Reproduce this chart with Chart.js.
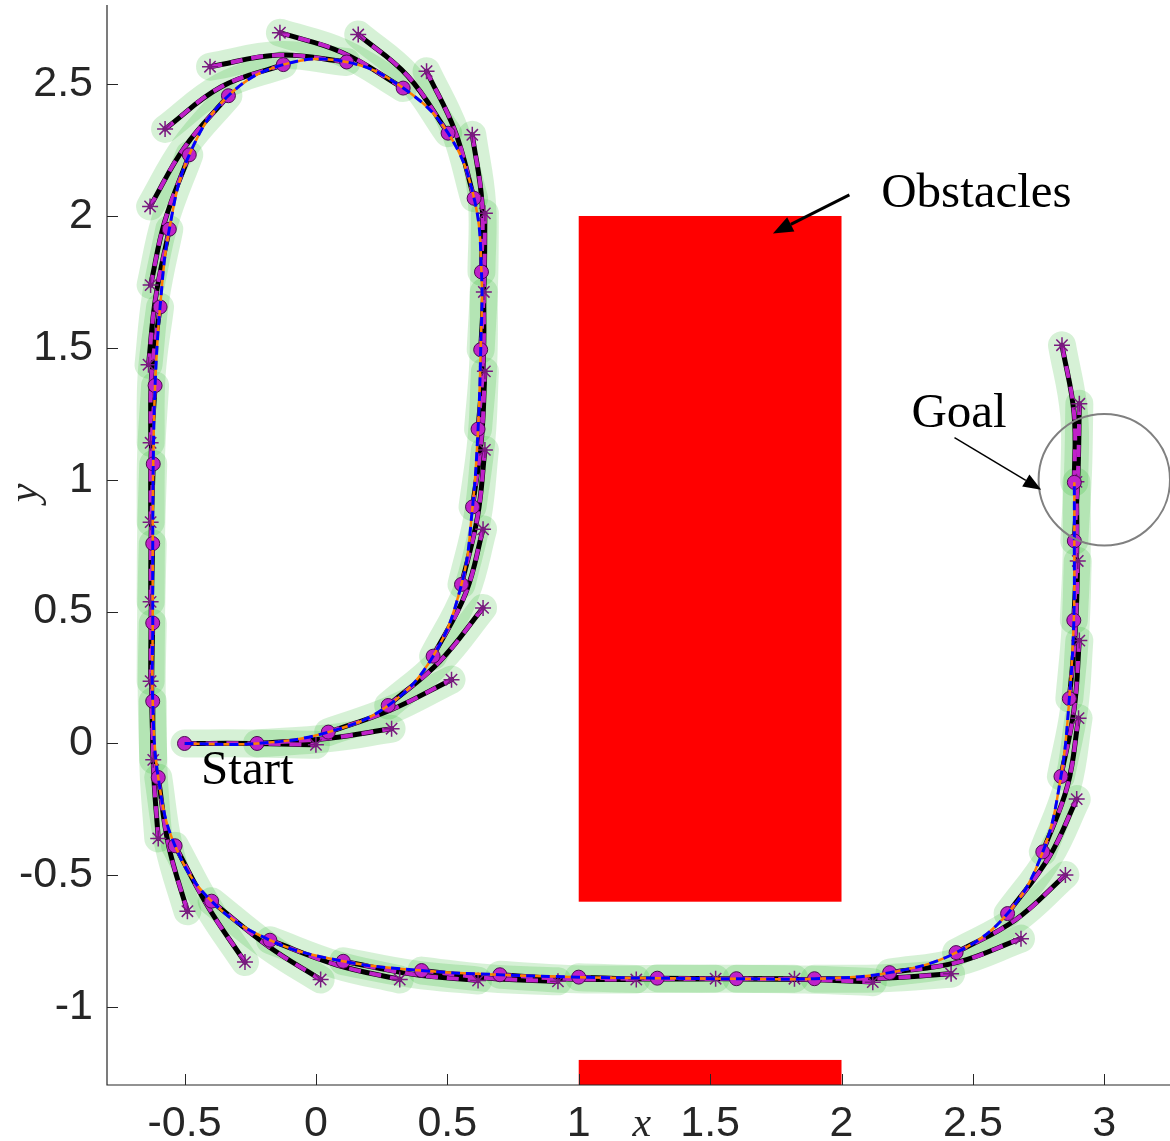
<!DOCTYPE html>
<html>
<head>
<meta charset="utf-8">
<script src="https://cdn.jsdelivr.net/npm/chart.js@4.4.1/dist/chart.umd.min.js"></script>
<style>
  html, body { margin: 0; padding: 0; background: #fff; }
  #wrap { width: 1170px; height: 1141px; }
</style>
</head>
<body>
<div id="wrap"><canvas id="plot" width="1170" height="1141"></canvas></div>
<script>
// closed-loop states (magenta circles)
const stateX = [-0.5, -0.224, 0.047, 0.275, 0.446, 0.554, 0.596, 0.617, 0.627, 0.63, 0.602, 0.503, 0.332, 0.117, -0.124,
  -0.333, -0.482, -0.558, -0.593, -0.612, -0.619, -0.621, -0.621, -0.621, -0.6, -0.536, -0.397, -0.175, 0.104, 0.402,
  0.7, 1.0, 1.299, 1.6, 1.897, 2.183, 2.436, 2.632, 2.766, 2.835, 2.867, 2.884, 2.886, 2.886];
const stateY = [0, 0, 0.043, 0.144, 0.331, 0.603, 0.897, 1.192, 1.493, 1.788, 2.067, 2.314, 2.485, 2.584, 2.574,
  2.456, 2.232, 1.95, 1.655, 1.357, 1.06, 0.758, 0.457, 0.16, -0.129, -0.388, -0.598, -0.746, -0.826, -0.861,
  -0.877, -0.886, -0.89, -0.892, -0.892, -0.869, -0.793, -0.645, -0.411, -0.125, 0.17, 0.467, 0.768, 0.99];

// predicted horizon from each state: a middle point and the end (asterisk)
const predMidX = [-0.25, 0.05, 0.28, 0.47, 0.57, 0.615, 0.63, 0.637, 0.64, 0.632, 0.53, 0.35, 0.1, -0.14, -0.36,
  -0.5, -0.575, -0.61, -0.625, -0.627, -0.627, -0.627, -0.625, -0.618, -0.56, -0.41, -0.18, 0.08, 0.37, 0.66,
  0.96, 1.26, 1.56, 1.86, 2.16, 2.44, 2.66, 2.79, 2.86, 2.885, 2.89, 2.895, 2.9, 2.885];
const predMidY = [0, 0.02, 0.125, 0.31, 0.57, 0.86, 1.155, 1.45, 1.75, 2.05, 2.32, 2.53, 2.62, 2.61, 2.49,
  2.26, 1.98, 1.69, 1.4, 1.1, 0.8, 0.5, 0.2, -0.1, -0.39, -0.62, -0.77, -0.84, -0.875, -0.89,
  -0.893, -0.893, -0.892, -0.895, -0.89, -0.83, -0.67, -0.43, -0.16, 0.13, 0.43, 0.73, 1.03, 1.25];
const predEndX = [0.0, 0.288, 0.516, 0.636, 0.636, 0.643, 0.643, 0.639, 0.643, 0.595, 0.421, 0.161, -0.137, -0.403, -0.574,
  -0.631, -0.629, -0.637, -0.629, -0.629, -0.629, -0.629, -0.619, -0.6, -0.489, -0.27, 0.018, 0.319, 0.617, 0.921,
  1.219, 1.521, 1.821, 2.119, 2.417, 2.683, 2.852, 2.895, 2.902, 2.905, 2.899, 2.894, 2.905, 2.839];
const predEndY = [-0.005, 0.056, 0.242, 0.514, 0.812, 1.113, 1.411, 1.712, 2.01, 2.308, 2.549, 2.688, 2.695, 2.566, 2.33,
  2.036, 1.738, 1.436, 1.14, 0.839, 0.537, 0.236, -0.062, -0.36, -0.636, -0.829, -0.895, -0.895, -0.899, -0.902,
  -0.895, -0.892, -0.892, -0.905, -0.873, -0.74, -0.499, -0.211, 0.096, 0.39, 0.692, 0.992, 1.288, 1.51];

// obstacles (rectangles) and goal region
const obstacleX0 = [1, 1];
const obstacleX1 = [2, 2];
const obstacleY0 = [-0.6, -1.3];
const obstacleY1 = [2, -1.2];
const goalCenter = [3, 1];
const goalRadius = 0.25;

// text annotations and arrows
const noteText = ["Obstacles", "Goal", "Start"];
const noteX = [2.151, 2.266, -0.437];
const noteY = [2.035, 1.199, -0.155];
const arrowFromX = [2.03, 2.43];
const arrowFromY = [2.08, 1.16];
const arrowToX = [1.739, 2.76];
const arrowToY = [1.934, 0.962];
const arrowWidth = [3, 1.5];

const xTickValues = [-0.5, 0, 0.5, 1, 1.5, 2, 2.5, 3];
const yTickValues = [-1, -0.5, 0, 0.5, 1, 1.5, 2, 2.5];

const colors = {
  axis: "#262626",
  halo: "rgba(0, 170, 0, 0.16)",
  magenta: "#bf22c9",
  star: "#7a1a80",
  orange: "#ff7f00",
  blue: "#0000ff",
  red: "#ff0000",
  goal: "#808080",
};

const statePoints = stateX.map((x, i) => ({ x, y: stateY[i] }));
const predictions = stateX.map((x, i) => [
  { x, y: stateY[i] },
  { x: predMidX[i], y: predMidY[i] },
  { x: predEndX[i], y: predEndY[i] },
]);
const endPoints = predEndX.map((x, i) => ({ x, y: predEndY[i] }));

const datasets = [];
predictions.forEach((points) => {
  datasets.push({ data: points, showLine: true, borderColor: colors.halo, borderWidth: 28,
    borderCapStyle: "round", borderJoinStyle: "round", pointRadius: 0, tension: 0.4, order: 50 });
});
predictions.forEach((points) => {
  datasets.push({ data: points, showLine: true, borderColor: "#000", borderWidth: 5,
    borderCapStyle: "round", pointRadius: 0, tension: 0.4, order: 40 });
});
predictions.forEach((points) => {
  datasets.push({ data: points, showLine: true, borderColor: colors.magenta, borderWidth: 4,
    borderDash: [12, 9], pointRadius: 0, tension: 0.4, order: 30 });
});
datasets.push({ data: endPoints, showLine: false, pointStyle: "star", pointRadius: 8,
  borderColor: colors.star, borderWidth: 1.5, backgroundColor: colors.star, order: 25 });
datasets.push({ data: statePoints, showLine: false, pointStyle: "circle", pointRadius: 7,
  backgroundColor: colors.magenta, borderColor: "#4a0a50", borderWidth: 1, order: 20 });
datasets.push({ data: statePoints, showLine: true, borderColor: colors.orange, borderWidth: 2.5,
  pointRadius: 0, tension: 0.4, order: 10 });
datasets.push({ data: statePoints, showLine: true, borderColor: colors.blue, borderWidth: 3,
  borderDash: [9, 6], pointRadius: 0, tension: 0.4, order: 5 });

function drawArrow(ctx, x0, y0, x1, y1, width, headLen, headHalf) {
  const ang = Math.atan2(y1 - y0, x1 - x0);
  const bx = x1 - headLen * Math.cos(ang);
  const by = y1 - headLen * Math.sin(ang);
  ctx.strokeStyle = "#000";
  ctx.fillStyle = "#000";
  ctx.lineWidth = width;
  ctx.beginPath();
  ctx.moveTo(x0, y0);
  ctx.lineTo(bx, by);
  ctx.stroke();
  ctx.beginPath();
  ctx.moveTo(x1, y1);
  ctx.lineTo(bx + headHalf * Math.sin(ang), by - headHalf * Math.cos(ang));
  ctx.lineTo(bx - headHalf * Math.sin(ang), by + headHalf * Math.cos(ang));
  ctx.closePath();
  ctx.fill();
}

const scenePlugin = {
  id: "scene",
  beforeDatasetsDraw(chart) {
    const { ctx, chartArea, scales: { x, y } } = chart;
    ctx.save();
    ctx.beginPath();
    ctx.rect(chartArea.left, chartArea.top, chartArea.right - chartArea.left, chartArea.bottom - chartArea.top);
    ctx.clip();
    ctx.fillStyle = colors.red;
    obstacleX0.forEach((x0, i) => {
      const px0 = x.getPixelForValue(x0);
      const px1 = x.getPixelForValue(obstacleX1[i]);
      const py0 = y.getPixelForValue(obstacleY1[i]);
      const py1 = y.getPixelForValue(obstacleY0[i]);
      ctx.fillRect(px0, py0, px1 - px0, py1 - py0);
    });
    ctx.restore();
  },
  afterDatasetsDraw(chart) {
    const { ctx, chartArea, scales: { x, y } } = chart;
    ctx.save();
    // goal region
    const cx = x.getPixelForValue(goalCenter[0]);
    const cy = y.getPixelForValue(goalCenter[1]);
    const r = x.getPixelForValue(goalCenter[0] + goalRadius) - cx;
    ctx.strokeStyle = colors.goal;
    ctx.lineWidth = 2;
    ctx.beginPath();
    ctx.arc(cx, cy, r, 0, Math.PI * 2);
    ctx.stroke();

    // annotations
    ctx.fillStyle = "#000";
    ctx.font = "49px 'Liberation Serif', serif";
    ctx.textAlign = "left";
    ctx.textBaseline = "alphabetic";
    noteText.forEach((t, i) => ctx.fillText(t, x.getPixelForValue(noteX[i]), y.getPixelForValue(noteY[i])));
    arrowFromX.forEach((fx, i) => {
      const big = arrowWidth[i] > 2;
      drawArrow(ctx, x.getPixelForValue(fx), y.getPixelForValue(arrowFromY[i]),
        x.getPixelForValue(arrowToX[i]), y.getPixelForValue(arrowToY[i]),
        arrowWidth[i], big ? 20 : 18, big ? 8 : 7);
    });

    // axis lines with inward ticks (box off)
    ctx.strokeStyle = colors.axis;
    ctx.lineWidth = 1.2;
    ctx.beginPath();
    ctx.moveTo(chartArea.left, chartArea.top);
    ctx.lineTo(chartArea.left, chartArea.bottom);
    ctx.lineTo(chartArea.right, chartArea.bottom);
    ctx.stroke();
    ctx.lineWidth = 1;
    ctx.beginPath();
    xTickValues.forEach((v) => {
      const px = Math.round(x.getPixelForValue(v)) + 0.5;
      ctx.moveTo(px, chartArea.bottom);
      ctx.lineTo(px, chartArea.bottom - 11);
    });
    yTickValues.forEach((v) => {
      const py = Math.round(y.getPixelForValue(v)) + 0.5;
      ctx.moveTo(chartArea.left, py);
      ctx.lineTo(chartArea.left + 11, py);
    });
    ctx.stroke();

    // axis labels (latex-style italics)
    ctx.fillStyle = colors.axis;
    ctx.font = "italic 42px 'Liberation Serif', serif";
    ctx.textAlign = "center";
    ctx.textBaseline = "middle";
    ctx.fillText("x", x.getPixelForValue(1.24), chartArea.bottom + 40);
    ctx.translate(26, y.getPixelForValue(0.95));
    ctx.rotate(-Math.PI / 2);
    ctx.fillText("y", 0, 0);
    ctx.restore();
  },
};

new Chart(document.getElementById("plot"), {
  type: "scatter",
  data: { datasets },
  plugins: [scenePlugin],
  options: {
    responsive: false,
    animation: false,
    devicePixelRatio: 1,
    layout: { autoPadding: false, padding: { top: 5, right: 0, left: 0, bottom: 0 } },
    plugins: { legend: { display: false }, tooltip: { enabled: false } },
    scales: {
      x: {
        type: "linear",
        min: -0.795,
        max: 3.25,
        afterBuildTicks: (scale) => { scale.ticks = xTickValues.map((value) => ({ value })); },
        afterFit: (scale) => { scale.height = 56; scale.paddingLeft = 0; scale.paddingRight = 0; },
        grid: { display: false, drawTicks: false },
        border: { display: false },
        ticks: { color: colors.axis, padding: 13, maxRotation: 0, autoSkip: false,
          font: { family: "'Liberation Sans', Arial, sans-serif", size: 43 },
          callback: (v) => String(v) },
      },
      y: {
        type: "linear",
        min: -1.295,
        max: 2.8,
        afterBuildTicks: (scale) => { scale.ticks = yTickValues.map((value) => ({ value })); },
        afterFit: (scale) => { scale.width = 107; scale.paddingTop = 0; scale.paddingBottom = 0; },
        grid: { display: false, drawTicks: false },
        border: { display: false },
        ticks: { color: colors.axis, padding: 14, autoSkip: false,
          font: { family: "'Liberation Sans', Arial, sans-serif", size: 43 },
          callback: (v) => String(v) },
      },
    },
  },
});
</script>
</body>
</html>
